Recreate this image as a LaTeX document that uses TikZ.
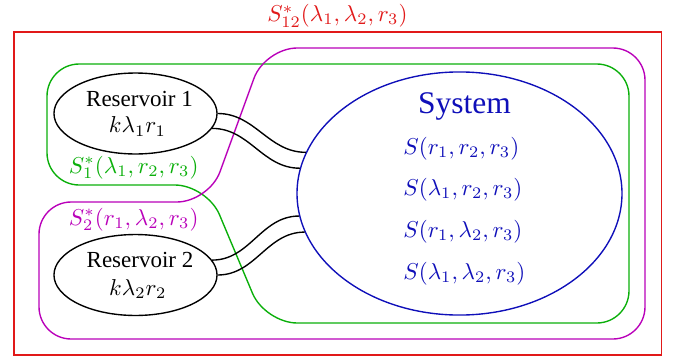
\documentclass[tikz,border=0pt]{standalone}
\usepackage{fontspec}
\setmainfont{Liberation Serif}
\usetikzlibrary{shapes.geometric}
\definecolor{cred}{RGB}{225,25,25}
\definecolor{cgreen}{RGB}{10,175,10}
\definecolor{cmag}{RGB}{185,0,185}
\definecolor{cblue}{RGB}{15,15,185}
\begin{document}
\begin{tikzpicture}[x=0.4348pt,y=-0.4348pt,line width=0.6pt,
  region/.style={rounded corners=14pt},
  res/.style={draw=black,ellipse,inner sep=0pt,minimum width=70.9pt,minimum height=35.2pt},
  sys/.style={draw=cblue,ellipse,inner sep=0pt,minimum width=141.3pt,minimum height=105.7pt},
  txt/.style={inner sep=0pt,font=\fontsize{10}{12}\selectfont},
  lbl/.style={inner sep=0pt,font=\fontsize{9.6}{12}\selectfont}]
\useasboundingbox (0,0) rectangle (680,362);
% outer red box
\draw[cred] (14,32) rectangle (661.5,355);
\node[txt,text=cred,anchor=base west] (lab12) at (266.7,21.5) {$S^*_{12}(\lambda_1,\lambda_2,r_3)$};
% green region
\draw[cgreen,region] (47,64) -- (629,64) -- (629,323) -- (265,323) -- (207,185) -- (47,185) -- cycle;
\node[lbl,text=cgreen,anchor=base west] (lab1) at (68.3,173) {$S^*_{1}(\lambda_1,r_2,r_3)$};
% magenta region
\draw[cmag,region] (39,202) -- (209,202) -- (265,48) -- (645,48) -- (645,339) -- (39,339) -- cycle;
\node[lbl,text=cmag,anchor=base west] (lab2) at (68.3,225) {$S^*_{2}(r_1,\lambda_2,r_3)$};
% reservoirs
\node[res] (R1) at (135.5,113.5) {};
\node[txt,anchor=base] (R1a) at (139.5,106) {Reservoir 1};
\node[txt,anchor=base] (R1b) at (137.5,132.7) {$k\lambda_1 r_1$};
\node[res] (R2) at (135.5,275) {};
\node[txt,anchor=base] (R2a) at (140,267.3) {Reservoir 2};
\node[txt,anchor=base] (R2b) at (137.8,295) {$k\lambda_2 r_2$};
% system
\node[sys] (S) at (459.5,193.5) {};
\node[txt,text=cblue,anchor=base,font=\fontsize{13.7}{16}\selectfont] (St) at (464.5,113.3) {System};
\node[txt,text=cblue,anchor=base west] (s1) at (402.7,154) {$S(r_1,r_2,r_3)$};
\node[txt,text=cblue,anchor=base west] (s2) at (402.7,195.5) {$S(\lambda_1,r_2,r_3)$};
\node[txt,text=cblue,anchor=base west] (s3) at (402.7,237.5) {$S(r_1,\lambda_2,r_3)$};
\node[txt,text=cblue,anchor=base west] (s4) at (402.7,279) {$S(\lambda_1,\lambda_2,r_3)$};
% connectors
\draw (R1.east) to[out=0,in=180] (S.165.2);
\draw (R1.-11.6) to[out=0,in=180] (S.171.25);
\draw (R2.11.6) to[out=0,in=180] (S.188.75);
\draw (R2.east) to[out=0,in=180] (S.194.8);
\end{tikzpicture}
\end{document}
